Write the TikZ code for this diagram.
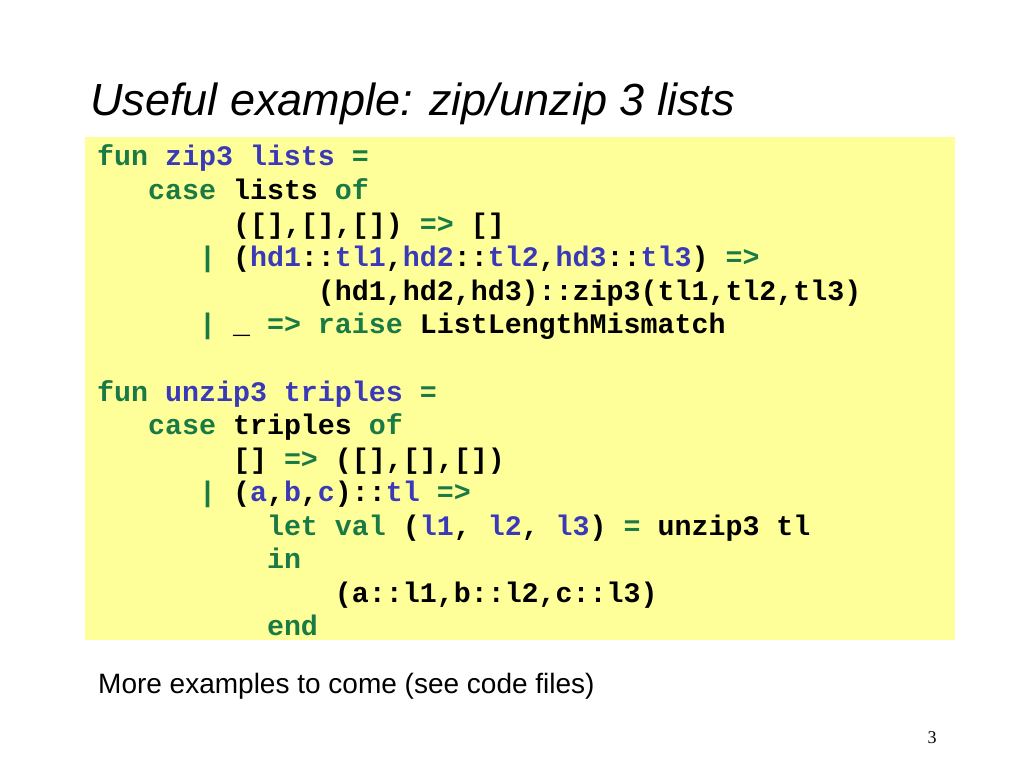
\documentclass[tikz,border=0pt]{standalone}
\usepackage{fontspec}
\setmainfont{Liberation Sans}
\newfontfamily\codefont{Liberation Mono}
\newfontfamily\numfont{Liberation Serif}
\usepackage{xcolor}
\definecolor{kwgreen}{HTML}{1A7A46}
\definecolor{idblue}{HTML}{3A3AB8}
\definecolor{boxyellow}{HTML}{FFFF99}
\newcommand{\kw}[1]{\textcolor{kwgreen}{#1}}
\newcommand{\id}[1]{\textcolor{idblue}{#1}}
\newcommand{\ind}[1]{\hspace*{#1\fontcharwd\font`M}}
\tikzset{
  codeline/.style={anchor=base west, inner sep=0pt, font=\codefont\fontsize{28.3}{28.3}\bfseries\selectfont}
}
\begin{document}
\begin{tikzpicture}[x=1pt, y=-1pt]
\useasboundingbox [fill=white] (0, 0) rectangle (1024, 768);
\fill [boxyellow] (85, 137) rectangle (955, 640);

\node [anchor=base west, inner sep=0pt, font=\fontsize{45}{45}\itshape\selectfont] (title) at (90, 115) {Useful example: zip/unzip 3 lists};

% zip3
\node [codeline] (z1) at (97, 165) {\kw{fun} \id{zip3 lists} \kw{=}};
\node [codeline] (z2) at (97, 199) {\ind{3}\kw{case} lists \kw{of}};
\node [codeline] (z3) at (97, 233) {\ind{8}([],[],[]) \kw{=>} []};
\node [codeline] (z4) at (97, 266) {\ind{6}\kw{|} (\id{hd1}::\id{tl1},\id{hd2}::\id{tl2},\id{hd3}::\id{tl3}) \kw{=>}};
\node [codeline] (z5) at (97, 300) {\ind{13}(hd1,hd2,hd3)::zip3(tl1,tl2,tl3)};
\node [codeline] (z6) at (97, 333) {\ind{6}\kw{|} \_ \kw{=> raise} ListLengthMismatch};

% unzip3
\node [codeline] (u1) at (97, 401) {\kw{fun} \id{unzip3 triples} \kw{=}};
\node [codeline] (u2) at (97, 434) {\ind{3}\kw{case} triples \kw{of}};
\node [codeline] (u3) at (97, 468) {\ind{8}[] \kw{=>} ([],[],[])};
\node [codeline] (u4) at (97, 501) {\ind{6}\kw{|} (\id{a},\id{b},\id{c})::\id{tl} \kw{=>}};
\node [codeline] (u5) at (97, 535) {\ind{10}\kw{let val} (\id{l1}, \id{l2}, \id{l3}) \kw{=} unzip3 tl};
\node [codeline] (u6) at (97, 568) {\ind{10}\kw{in}};
\node [codeline] (u7) at (97, 602) {\ind{14}(a::l1,b::l2,c::l3)};
\node [codeline] (u8) at (97, 635) {\ind{10}\kw{end}};

\node [anchor=base west, inner sep=0pt, font=\fontsize{28}{28}\selectfont] (more) at (98, 693) {More examples to come (see code files)};
\node [anchor=base, inner sep=0pt, font=\numfont\fontsize{18}{18}\selectfont] (page) at (932, 743) {3};
\end{tikzpicture}
\end{document}
